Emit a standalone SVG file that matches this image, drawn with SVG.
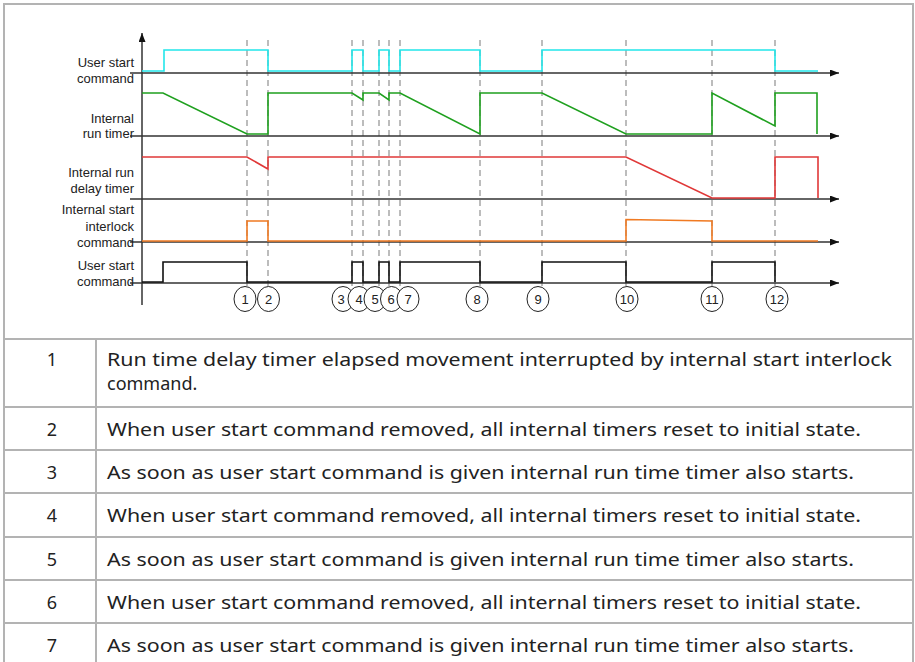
<svg xmlns="http://www.w3.org/2000/svg" width="915" height="662" viewBox="0 0 915 662">
<style>
.lbl{font-family:"Liberation Sans",Arial,sans-serif;font-size:13px;fill:#222;text-anchor:end}
.num{font-family:"Liberation Sans",Arial,sans-serif;font-size:13px;fill:#222;text-anchor:middle}
.tbl{font-family:"Noto Sans","Open Sans",sans-serif;font-size:18px;fill:#222}
.tnum{font-family:"Noto Sans","Open Sans",sans-serif;font-size:18px;fill:#222;text-anchor:middle}
.axis{stroke:#333;stroke-width:1.5;fill:none}
.dash{stroke:#999;stroke-width:1.3;stroke-dasharray:6,4;fill:none}
.sig{fill:none;stroke-width:1.6;stroke-linejoin:miter}
.circ{fill:#fff;stroke:#222;stroke-width:1}
.grid{stroke:#b3b3b3;stroke-width:2;fill:none}
</style>
<defs>
<marker id="arr" viewBox="0 0 10 10" refX="10" refY="5" markerWidth="9" markerHeight="7" markerUnits="userSpaceOnUse" preserveAspectRatio="none" orient="auto">
<path d="M0,0 L10,5 L0,10 z" fill="#111"/>
</marker>
</defs>
<rect width="915" height="662" fill="#fff"/>
<g id="frame">
<path class="grid" d="M4,670 V4 H913 V670"/>
<line class="grid" x1="4" y1="339" x2="913" y2="339"/>
</g>
<g id="dashed-markers">
<path class="dash" d="M247,40 V287 M268,40 V287 M352,40 V287 M363,40 V287 M379,40 V287 M389,40 V287 M400,40 V287 M480,40 V287 M542,40 V287 M626,40 V287 M712,40 V287 M775,40 V287"/>
</g>
<g id="axes">
<line class="axis" x1="142" y1="305" x2="142" y2="33" marker-end="url(#arr)" stroke="#111"/>
<line class="axis" x1="130" y1="73" x2="839" y2="73" marker-end="url(#arr)"/>
<line class="axis" x1="130" y1="136" x2="839" y2="136" marker-end="url(#arr)"/>
<line class="axis" x1="130" y1="199" x2="839" y2="199" marker-end="url(#arr)"/>
<line class="axis" x1="130" y1="242" x2="839" y2="242" marker-end="url(#arr)"/>
<line class="axis" x1="130" y1="283" x2="839" y2="283" marker-end="url(#arr)"/>
</g>
<g id="signal-user-start" class="sig" stroke="#22e6ea">
<path d="M142,71 H164 V50 H268 V71 H352 V50 H363 V71 H379 V50 H389 V71 H400 V50 H480 V71 H542 V50 H775 V71 H818"/>
</g>
<g id="signal-run-timer" class="sig" stroke="#1fa01f">
<path d="M142,93 H163 L247,134 H268 V93 H352 L363,100 V93 H379 L389,100 V93 H400 L480,134 V93 H542 L626,134 H712 V93 L775,126 V93 H817 V134"/>
</g>
<g id="signal-run-delay" class="sig" stroke="#e03838">
<path d="M142,157 H247 L268,169 V157 H626 L712,198 H775 V157 H818 V198"/>
</g>
<g id="signal-interlock" class="sig" stroke="#f07a22">
<path d="M142,241 H247 V221 H268 V241 H626 V219.5 L712,221 V241 H818"/>
</g>
<g id="signal-user-start-2" class="sig" stroke="#111">
<path d="M142,282 H163 V262 H247 V282 H352 V262 H363 V282 H379 V262 H389 V282 H400 V262 H480 V282 H542 V262 H626 V282 H712 V262 H775 V282"/>
</g>
<g id="labels">
<text class="lbl" x="134" y="67">User start</text>
<text class="lbl" x="134" y="83">command</text>
<text class="lbl" x="134" y="123">Internal</text>
<text class="lbl" x="134" y="138">run timer</text>
<text class="lbl" x="134" y="177">Internal run</text>
<text class="lbl" x="134" y="193">delay timer</text>
<text class="lbl" x="134" y="214">Internal start</text>
<text class="lbl" x="134" y="230.5">interlock</text>
<text class="lbl" x="134" y="246.5">command</text>
<text class="lbl" x="134" y="270">User start</text>
<text class="lbl" x="134" y="286">command</text>
</g>
<g id="event-markers">
<g id="m1"><ellipse class="circ" cx="245" cy="299" rx="11" ry="12.5"/><text class="num" x="245" y="304">1</text></g>
<g id="m2"><ellipse class="circ" cx="268.5" cy="299" rx="11" ry="12.5"/><text class="num" x="268.5" y="304">2</text></g>
<g id="m3"><ellipse class="circ" cx="343" cy="299" rx="11" ry="12.5"/><text class="num" x="341" y="304">3</text></g>
<g id="m4"><ellipse class="circ" cx="359" cy="299" rx="11" ry="12.5"/><text class="num" x="359" y="304">4</text></g>
<g id="m5"><ellipse class="circ" cx="375" cy="299" rx="11" ry="12.5"/><text class="num" x="375" y="304">5</text></g>
<g id="m6"><ellipse class="circ" cx="391.5" cy="299" rx="11" ry="12.5"/><text class="num" x="391" y="304">6</text></g>
<g id="m7"><ellipse class="circ" cx="408" cy="299" rx="11" ry="12.5"/><text class="num" x="408" y="304">7</text></g>
<g id="m8"><ellipse class="circ" cx="477" cy="299" rx="11" ry="12.5"/><text class="num" x="477" y="304">8</text></g>
<g id="m9"><ellipse class="circ" cx="538" cy="299" rx="11" ry="12.5"/><text class="num" x="538" y="304">9</text></g>
<g id="m10"><ellipse class="circ" cx="627" cy="299" rx="11" ry="12.5"/><text class="num" x="627" y="304">10</text></g>
<g id="m11"><ellipse class="circ" cx="712" cy="299" rx="11" ry="12.5"/><text class="num" x="712" y="304">11</text></g>
<g id="m12"><ellipse class="circ" cx="777" cy="299" rx="11" ry="12.5"/><text class="num" x="777" y="304">12</text></g>
</g>
<g id="table">
<path class="grid" d="M96,339 V670 M4,407 H913 M4,450 H913 M4,493 H913 M4,537 H913 M4,580 H913 M4,623 H913"/>
<g id="row1"><text class="tnum" x="52" y="366">1</text><text class="tbl" x="107" y="366" textLength="785" lengthAdjust="spacingAndGlyphs">Run time delay timer elapsed movement interrupted by internal start interlock</text><text class="tbl" x="107" y="390">command.</text></g>
<g id="row2"><text class="tnum" x="52" y="436">2</text><text class="tbl" x="107" y="436" textLength="754" lengthAdjust="spacingAndGlyphs">When user start command removed, all internal timers reset to initial state.</text></g>
<g id="row3"><text class="tnum" x="52" y="479">3</text><text class="tbl" x="107" y="479" textLength="747" lengthAdjust="spacingAndGlyphs">As soon as user start command is given internal run time timer also starts.</text></g>
<g id="row4"><text class="tnum" x="52" y="522">4</text><text class="tbl" x="107" y="522" textLength="754" lengthAdjust="spacingAndGlyphs">When user start command removed, all internal timers reset to initial state.</text></g>
<g id="row5"><text class="tnum" x="52" y="566">5</text><text class="tbl" x="107" y="566" textLength="747" lengthAdjust="spacingAndGlyphs">As soon as user start command is given internal run time timer also starts.</text></g>
<g id="row6"><text class="tnum" x="52" y="609">6</text><text class="tbl" x="107" y="609" textLength="754" lengthAdjust="spacingAndGlyphs">When user start command removed, all internal timers reset to initial state.</text></g>
<g id="row7"><text class="tnum" x="52" y="652">7</text><text class="tbl" x="107" y="652" textLength="747" lengthAdjust="spacingAndGlyphs">As soon as user start command is given internal run time timer also starts.</text></g>
</g>
</svg>
